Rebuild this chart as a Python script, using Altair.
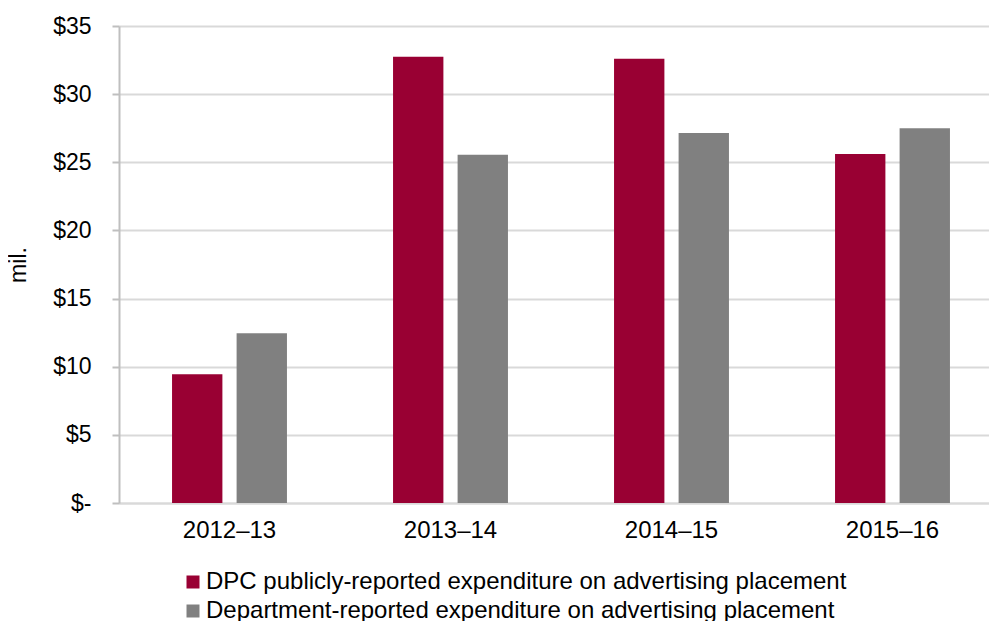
import altair as alt
import pandas as pd

years = ["2012–13", "2013–14", "2014–15", "2015–16"]
series = [
    "DPC publicly-reported expenditure on advertising placement",
    "Department-reported expenditure on advertising placement",
]
dpc_values = [9.45, 32.75, 32.6, 25.6]
dept_values = [12.45, 25.55, 27.15, 27.5]
y_ticks = [0, 5, 10, 15, 20, 25, 30, 35]
colors = ["#990033", "#808080"]

rows = []
for i, yr in enumerate(years):
    rows.append({"year": yr, "series": series[0], "value": dpc_values[i]})
    rows.append({"year": yr, "series": series[1], "value": dept_values[i]})
df = pd.DataFrame(rows)

FONT = "Liberation Sans"
FS = 23
FS2 = 24

chart = alt.Chart(df).mark_bar().encode(
    x=alt.X(
        "year:N",
        sort=years,
        scale=alt.Scale(range=[0, 884], paddingInner=0.48, paddingOuter=0.24),
        axis=alt.Axis(
            title=None, labelAngle=0, ticks=False, labelPadding=15,
            domainColor="#d9d9d9", domainWidth=2, grid=False,
            labelFontSize=FS2, labelFont=FONT, labelColor="#000000",
        ),
    ),
    xOffset=alt.XOffset(
        "series:N", sort=series,
        scale=alt.Scale(paddingInner=0.22, paddingOuter=0),
    ),
    y=alt.Y(
        "value:Q",
        scale=alt.Scale(domain=[0, 35], nice=False),
        axis=alt.Axis(
            title="mil.", values=y_ticks,
            labelExpr="datum.value == 0 ? '$-' : '$' + datum.value",
            tickSize=7, tickColor="#bfbfbf", tickWidth=2,
            domainColor="#bfbfbf", domainWidth=2,
            gridColor="#d9d9d9", gridWidth=2,
            labelPadding=21, labelFontSize=FS, labelFont=FONT, labelColor="#000000",
            titleFontSize=FS, titleFont=FONT, titleFontWeight="normal",
            titleColor="#000000", titlePadding=22,
        ),
    ),
    color=alt.Color(
        "series:N", sort=series,
        scale=alt.Scale(domain=series, range=colors),
        legend=alt.Legend(
            title=None, orient="none", legendX=62, legendY=544,
            direction="vertical", symbolType="square", symbolSize=169,
            symbolStrokeWidth=0, labelFontSize=FS2, labelFont=FONT,
            labelColor="#000000", labelOffset=1, rowPadding=5, padding=0,
            labelLimit=900,
        ),
    ),
).properties(
    width=870, height=477,
    autosize=alt.AutoSizeParams(type="none"),
    padding={"left": 111, "top": 18, "right": 0, "bottom": 122},
).configure_view(stroke=None)

chart.save("out.html", embed_options={"renderer": "svg", "actions": False})
